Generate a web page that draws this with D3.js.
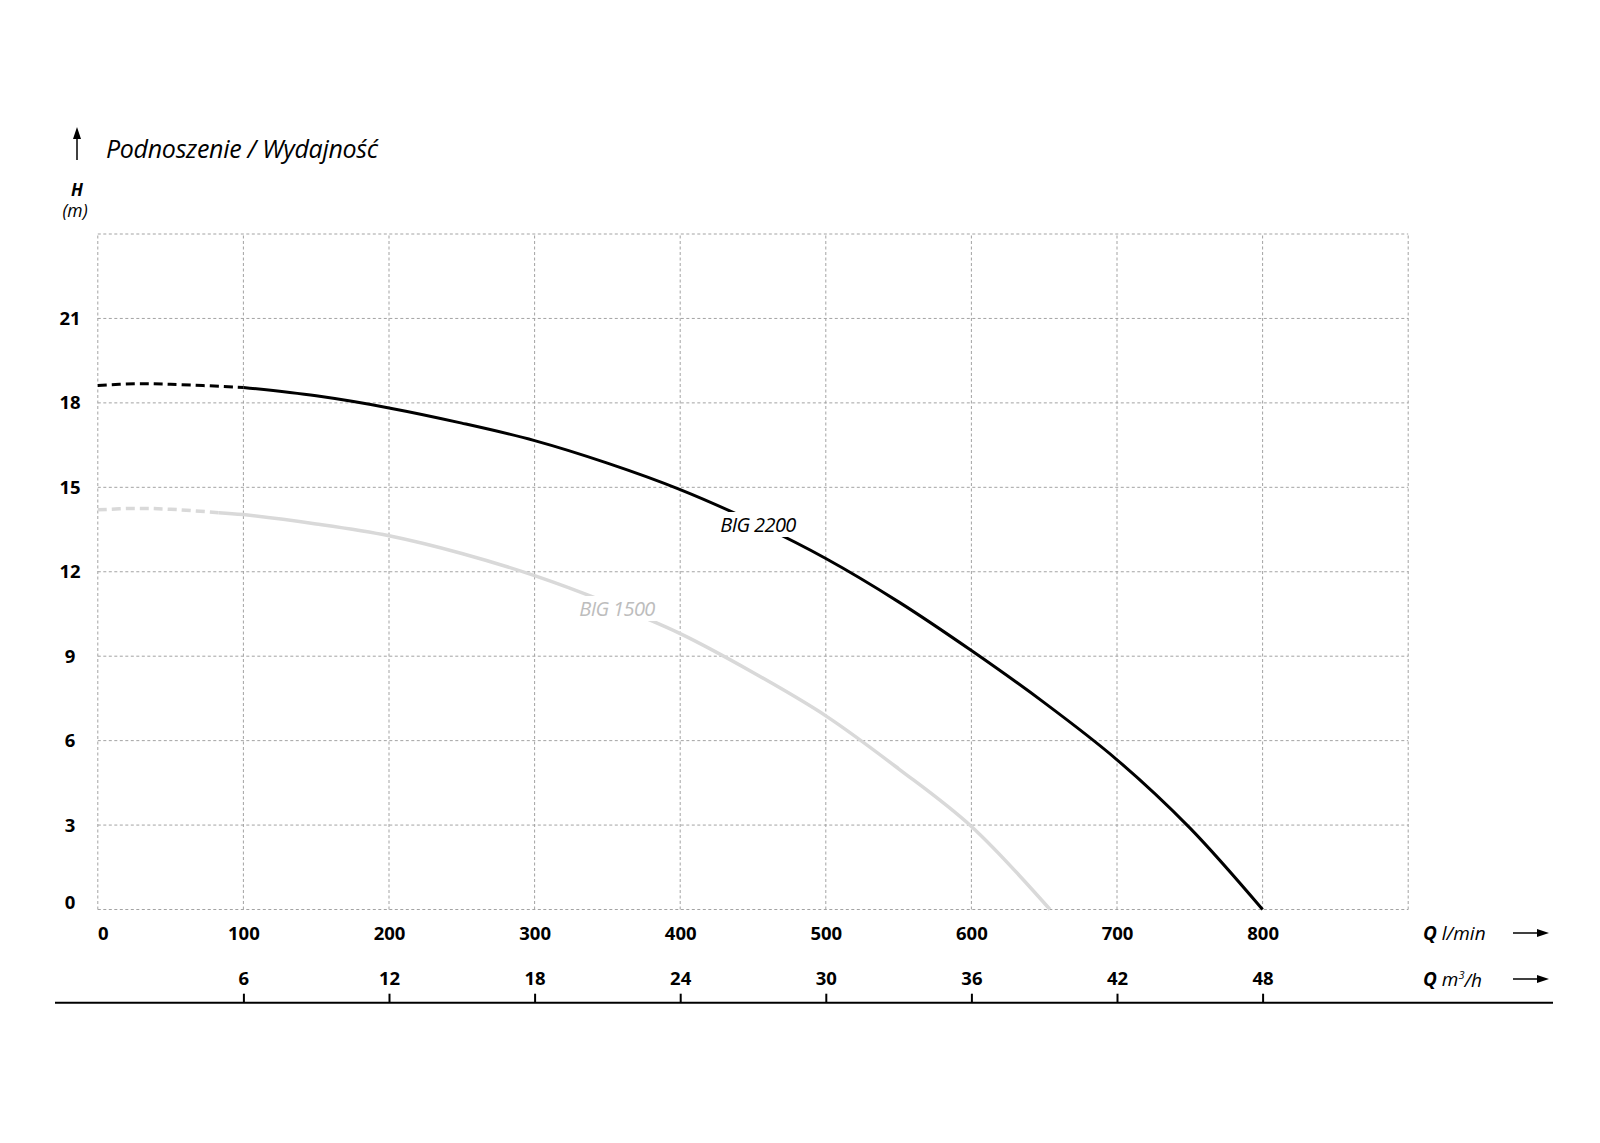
<!DOCTYPE html>
<html>
<head>
<meta charset="utf-8">
<script src="https://cdn.jsdelivr.net/npm/d3@7"></script>
<style>
  body { margin: 0; background: #fff; }
  svg { display: block; }
  text { font-family: "Open Sans", "Noto Sans", sans-serif; }
</style>
</head>
<body>
<div id="chart"></div>
<script>
// flow in l/min, head in m
var qTicks = [0, 100, 200, 300, 400, 500, 600, 700, 800];
var m3Ticks = [6, 12, 18, 24, 30, 36, 42, 48];
var hTicks = [0, 3, 6, 9, 12, 15, 18, 21];

var big2200Q = [0, 25, 50, 100, 150, 200, 250, 300, 350, 400, 450, 500, 550, 600, 650, 700, 750, 800];
var big2200H = [18.62, 18.68, 18.66, 18.55, 18.25, 17.82, 17.28, 16.66, 15.86, 14.92, 13.78, 12.47, 10.93, 9.2, 7.35, 5.32, 2.9, 0];
var big2200Dash = 100;

var big1500Q = [0, 25, 50, 83, 100, 150, 200, 250, 300, 350, 400, 450, 500, 550, 600, 654];
var big1500H = [14.2, 14.25, 14.22, 14.1, 14.03, 13.7, 13.28, 12.65, 11.86, 10.9, 9.8, 8.42, 6.88, 5.0, 2.95, 0];
var big1500Dash = 83;

var width = 1600, height = 1143;
var svg = d3.select("#chart").append("svg")
    .attr("width", width)
    .attr("height", height);

svg.append("rect").attr("width", width).attr("height", height).attr("fill", "#fff");

var x = d3.scaleLinear().domain([0, 900]).range([97.8, 1408.2]);
var xm3 = d3.scaleLinear().domain([0, 54]).range([97.8, 1408.2]);
var y = d3.scaleLinear().domain([0, 24]).range([909.5, 234]);

// grid
var grid = svg.append("g")
    .attr("stroke", "#a3a3a3")
    .attr("stroke-width", 1)
    .attr("stroke-dasharray", "3,2.5");
grid.selectAll("line.v").data(d3.range(0, 901, 100)).enter().append("line")
    .attr("x1", function (d) { return x(d); })
    .attr("x2", function (d) { return x(d); })
    .attr("y1", y(0))
    .attr("y2", y(24));
grid.selectAll("line.h").data(d3.range(0, 25, 3)).enter().append("line")
    .attr("x1", x(0))
    .attr("x2", x(900))
    .attr("y1", function (d) { return y(d); })
    .attr("y2", function (d) { return y(d); });

// y labels
svg.append("g").selectAll("text").data(hTicks).enter().append("text")
    .attr("x", 70)
    .attr("y", function (d) { return d === 0 ? y(d) - 7 : y(d); })
    .attr("dy", "0.35em")
    .attr("text-anchor", "middle")
    .attr("font-size", 18.5)
    .attr("font-weight", "bold")
    .text(function (d) { return d; });

// x axis l/min
var xAxis = svg.append("g")
    .attr("transform", "translate(0," + y(0) + ")")
    .call(d3.axisBottom(x).tickValues(qTicks).tickSize(0).tickPadding(17));
xAxis.select(".domain").remove();
xAxis.selectAll("text")
    .attr("font-size", 18.5)
    .attr("font-weight", "bold")
    .attr("fill", "#000")
    .attr("font-family", null)
    .attr("dx", function (d) { return d === 0 ? 5 : 0; });

// x axis m3/h
var axisY = 1002.7;
svg.append("line")
    .attr("x1", 55).attr("x2", 1553)
    .attr("y1", axisY).attr("y2", axisY)
    .attr("stroke", "#000")
    .attr("stroke-width", 2);
var m3Axis = svg.append("g")
    .attr("transform", "translate(0," + axisY + ")")
    .call(d3.axisTop(xm3).tickValues(m3Ticks).tickSize(9).tickPadding(9));
m3Axis.select(".domain").remove();
m3Axis.selectAll("line").attr("stroke", "#000").attr("stroke-width", 2);
m3Axis.selectAll("text")
    .attr("font-size", 18.5)
    .attr("font-weight", "bold")
    .attr("fill", "#000")
    .attr("font-family", null);

// curves
function pts(qs, hs) {
    return qs.map(function (q, i) { return [q, hs[i]]; });
}
var line = d3.line()
    .x(function (d) { return x(d[0]); })
    .y(function (d) { return y(d[1]); })
    .curve(d3.curveCatmullRom.alpha(0.5));

function drawCurve(qs, hs, split, color, w) {
    var p = pts(qs, hs);
    svg.append("path")
        .attr("d", line(p.filter(function (d) { return d[0] <= split; })))
        .attr("fill", "none")
        .attr("stroke", color)
        .attr("stroke-width", w)
        .attr("stroke-dasharray", "9,5");
    svg.append("path")
        .attr("d", line(p.filter(function (d) { return d[0] >= split; })))
        .attr("fill", "none")
        .attr("stroke", color)
        .attr("stroke-width", w);
}
drawCurve(big1500Q, big1500H, big1500Dash, "#d9d9d9", 3.5);
drawCurve(big2200Q, big2200H, big2200Dash, "#000", 3);

// curve labels with white knockout
function curveLabel(txt, cx, cy, color) {
    var g = svg.append("g");
    var r = g.append("rect").attr("fill", "#fff");
    var t = g.append("text")
        .attr("x", cx)
        .attr("y", cy)
        .attr("dy", "0.35em")
        .attr("text-anchor", "middle")
        .attr("font-size", 20)
        .attr("font-style", "italic")
        .attr("letter-spacing", -0.6)
        .attr("fill", color)
        .text(txt);
    var b = t.node().getBBox();
    r.attr("x", b.x - 4).attr("y", b.y + 1).attr("width", b.width + 8).attr("height", b.height - 2);
}
curveLabel("BIG 2200", 758, 525, "#000");
curveLabel("BIG 1500", 617, 609, "#bdbdbd");

// title + y arrow
svg.append("line")
    .attr("x1", 77).attr("x2", 77)
    .attr("y1", 160).attr("y2", 136)
    .attr("stroke", "#000").attr("stroke-width", 1.5);
svg.append("path")
    .attr("d", "M77,127 L73,139 L81,139 Z")
    .attr("fill", "#000");
svg.append("text")
    .attr("x", 106).attr("y", 149)
    .attr("dy", "0.35em")
    .attr("font-size", 25)
    .attr("font-style", "italic")
    .attr("letter-spacing", -0.3)
    .text("Podnoszenie / Wydajność");
svg.append("text")
    .attr("x", 77).attr("y", 190)
    .attr("dy", "0.35em")
    .attr("text-anchor", "middle")
    .attr("font-size", 17)
    .attr("font-weight", "bold")
    .attr("font-style", "italic")
    .text("H");
svg.append("text")
    .attr("x", 75).attr("y", 211)
    .attr("dy", "0.35em")
    .attr("text-anchor", "middle")
    .attr("font-size", 17.5)
    .attr("font-style", "italic")
    .text("(m)");

// Q unit labels + arrows
function qLabel(cy, unit, sup, rest) {
    var t = svg.append("text")
        .attr("x", 1423).attr("y", cy)
        .attr("dy", "0.35em")
        .attr("font-size", 19)
        .attr("font-style", "italic");
    t.append("tspan").attr("font-weight", "bold").text("Q ");
    t.append("tspan").text(unit);
    if (sup) {
        t.append("tspan").attr("font-size", 11).attr("dy", "-0.6em").text(sup);
        t.append("tspan").attr("dy", "0.4em").text(rest);
    }
    svg.append("line")
        .attr("x1", 1513).attr("x2", 1540)
        .attr("y1", cy).attr("y2", cy)
        .attr("stroke", "#000").attr("stroke-width", 1.5);
    svg.append("path")
        .attr("d", "M1549," + cy + " L1537," + (cy - 4) + " L1537," + (cy + 4) + " Z")
        .attr("fill", "#000");
}
qLabel(933, "l/min");
qLabel(979, "m", "3", "/h");
</script>
</body>
</html>
